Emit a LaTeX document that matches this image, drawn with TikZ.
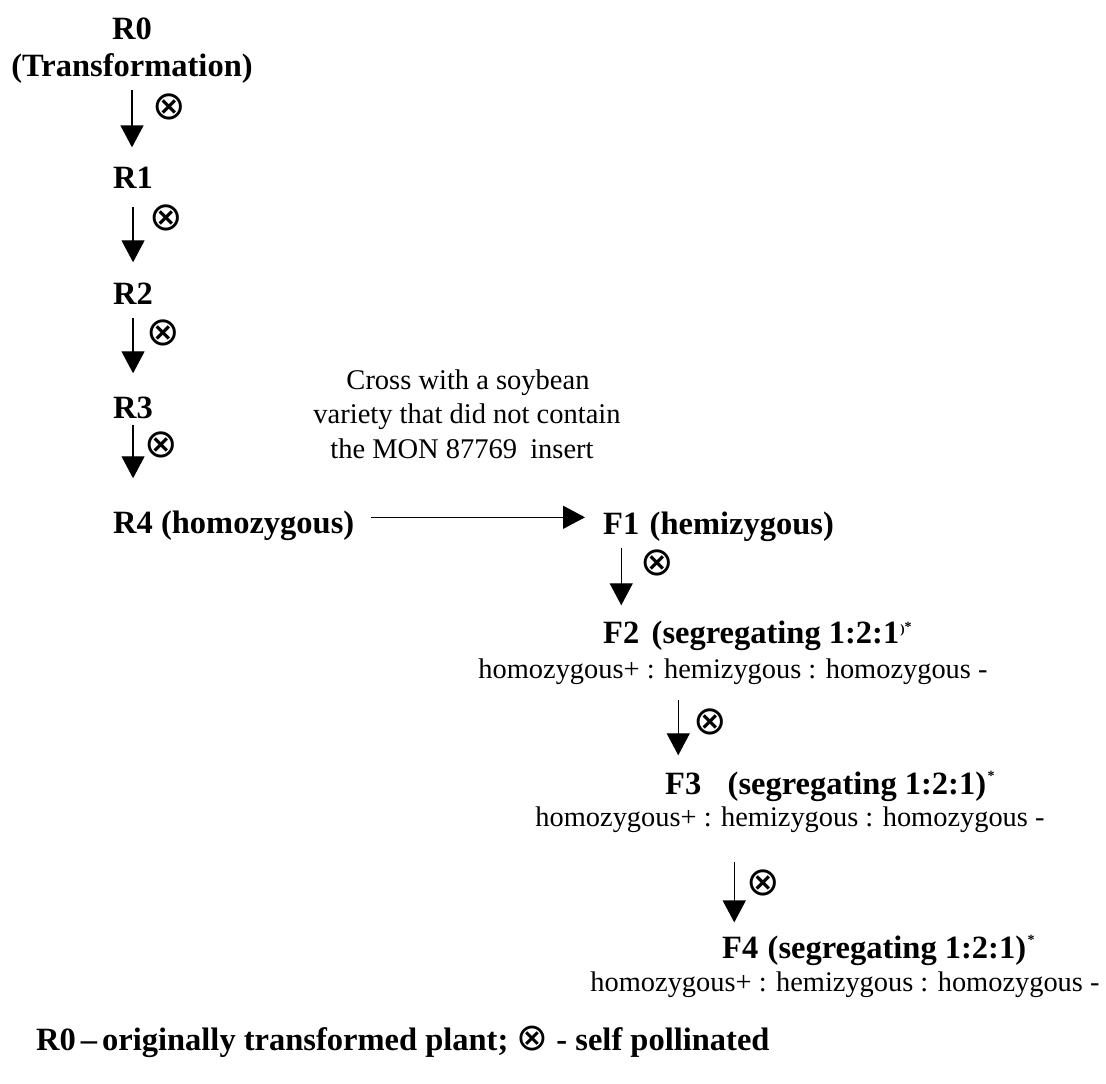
\documentclass[tikz,border=0pt]{standalone}
\usepackage{fontspec}
\setmainfont{Liberation Serif}
\newfontfamily\symf{DejaVu Sans}
\usetikzlibrary{arrows.meta,calc}
\newcommand{\astmark}{\hspace{1.5pt}\raisebox{14pt}{\fontsize{14}{14}\selectfont *}}
\begin{document}
\begin{tikzpicture}[x=1pt,y=-1pt,
  lbl/.style={font=\fontsize{32.5}{36}\selectfont\bfseries, inner sep=0pt},
  reg/.style={font=\fontsize{28.4}{32}\selectfont, inner sep=0pt},
  crs/.style={font=\fontsize{28.5}{32}\selectfont, inner sep=0pt},
  ot/.style={font=\fontsize{40}{40}\selectfont\symf, inner sep=0pt},
  arr/.style={line width=1.4pt, -{Triangle[width=23pt,length=22pt]}}]
\fill[white] (0,0) rectangle (1106,1084);
\useasboundingbox (0,0) rectangle (1106,1084);

% R column
\node[lbl, anchor=base] (R0) at (132,39) {R0};
\node[lbl, anchor=base] (T) at (132,76) {(Transformation)};
\node[lbl, anchor=base west] (R1) at (113,188) {R1};
\node[lbl, anchor=base west] (R2) at (113,304) {R2};
\node[lbl, anchor=base west] (R3) at (113,418) {R3};
\node[lbl, anchor=base west] (R4) at (113,533) {R4 (homozygous)};

\draw[arr, shorten <=7pt, shorten >=19pt] (T.south) -- (T.south |- R1.north);
\draw[arr, shorten <=19pt, shorten >=20pt] (R1.south) -- (R1.south |- R2.north);
\draw[arr, shorten <=14pt, shorten >=23pt] (R2.south) -- (R2.south |- R3.north);
\draw[arr, shorten <=6pt, shorten >=32pt] (R3.south) -- (R3.south |- R4.north);

\node[ot] (o1) at (169,107) {⊗};
\node[ot] (o2) at (166,218) {⊗};
\node[ot] (o3) at (163,333) {⊗};
\node[ot] (o4) at (161,445) {⊗};

% cross text
\node[crs, anchor=base] (c1) at (468,389.5) {Cross with a soybean};
\node[crs, anchor=base] (c2) at (467,423.5) {variety that did not contain};
\node[crs, anchor=base] (c3) at (462,458.5) {the MON 87769\hspace{6pt} insert};

% F column
\node[lbl, anchor=base west] (f1) at (603,534) {F1};
\node[lbl, anchor=base west] (f1d) at ([xshift=10pt]f1.base east) {(hemizygous)};
\draw[arr, shorten <=17pt, shorten >=18pt] ([yshift=8pt]R4.east) -- ([yshift=8pt]R4.east -| f1.west);

\node[lbl, anchor=base west] (f2) at (603,643) {F2};
\node[lbl, anchor=base west] (f2d) at ([xshift=12pt]f2.base east)
  {(segregating 1:2:1\hspace{1pt}\raisebox{10pt}{\fontsize{13}{13}\selectfont)}\raisebox{12pt}{\fontsize{14}{14}\selectfont *}};
\node[reg, anchor=base] (h2) at (733,678) {homozygous+ : hemizygous : homozygous -};
\draw[arr, shorten <=14pt, shorten >=16pt] (f1.south) -- (f1.south |- f2.north);
\node[ot] (o5) at (657,563) {⊗};

\node[lbl, anchor=base west] (f3) at (665,794) {F3};
\node[lbl, anchor=base west] (f3d) at ([xshift=26pt]f3.base east) {(segregating 1:2:1)\astmark};
\node[reg, anchor=base] (h3) at (790,826) {homozygous+ : hemizygous : homozygous -};
\draw[arr, shorten <=16pt, shorten >=17pt] ($(h2.south -| f3.north)+(-5,0)$) -- ($(f3.north)+(-5,0)$);
\node[ot] (o6) at (710,722) {⊗};

\node[lbl, anchor=base west] (f4) at (722,958) {F4};
\node[lbl, anchor=base west] (f4d) at ([xshift=9pt]f4.base east) {(segregating 1:2:1)\astmark};
\node[reg, anchor=base] (h4) at (845,991) {homozygous+ : hemizygous : homozygous -};
\draw[arr, shorten <=30pt, shorten >=14pt] ($(h3.south -| f4.north)+(-6,0)$) -- ($(f4.north)+(-6,0)$);
\node[ot] (o7) at (763,883) {⊗};

% footer
\node[lbl, anchor=base west] (foot) at (36,1050)
  {R0\hspace{5pt}–\hspace{5pt}originally transformed plant; {\symf\mdseries\fontsize{38}{38}\selectfont ⊗} - self pollinated};
\end{tikzpicture}
\end{document}
